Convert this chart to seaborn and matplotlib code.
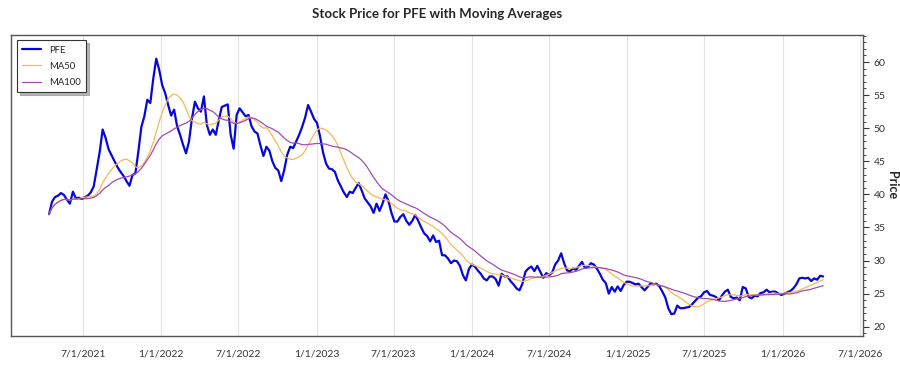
import seaborn as sns
import matplotlib.pyplot as plt
import matplotlib.dates as mdates
from matplotlib.ticker import MultipleLocator, FuncFormatter
import pandas as pd

# weekly closes, starting 2021-04-12
start_date = '2021-04-12'
prices_2021 = [37.0, 38.9, 39.6, 39.8, 40.2, 39.9, 39.2, 38.6, 40.4, 39.4,
               39.5, 39.3, 39.6, 39.8, 40.3, 41.2, 43.8, 46.4, 49.8, 48.5,
               46.8, 45.9, 45.0, 44.1, 43.4, 42.8, 42.0, 41.3, 42.9, 43.2,
               46.5, 50.2, 51.8, 54.3, 53.8, 57.5, 60.5, 58.8, 56.5]
prices_2022 = [55.3, 53.5, 51.9, 52.8, 50.3, 49.0, 47.5, 46.2, 48.0, 51.5,
               54.0, 53.0, 52.5, 54.8, 50.5, 49.0, 49.8, 49.0, 51.2, 53.2,
               53.4, 53.6, 49.0, 46.9, 52.0, 53.0, 52.4, 51.8, 52.0, 50.3,
               49.5, 49.2, 47.4, 45.8, 47.2, 46.6, 45.0, 44.0, 43.6, 42.0,
               43.7, 46.0, 47.2, 47.0, 48.0, 49.0, 50.2, 51.6, 53.5, 52.5,
               51.4, 50.8]
prices_2023 = [48.8, 46.4, 44.7, 43.9, 43.8, 43.4, 42.1, 41.2, 40.3, 39.6,
               40.4, 40.2, 41.0, 41.7, 40.6, 39.4, 38.8, 38.2, 37.2, 38.6,
               37.5, 38.6, 40.0, 39.0, 37.2, 35.9, 35.9, 36.6, 37.0, 36.0,
               35.4, 36.0, 36.9, 36.0, 35.0, 34.1, 33.7, 32.9, 33.8, 32.8,
               33.0, 30.8, 30.8, 30.3, 29.6, 30.0, 29.9, 29.2, 27.8, 27.0,
               28.7, 29.4]
prices_2024 = [29.1, 28.5, 28.0, 27.3, 27.0, 27.6, 27.6, 27.2, 26.2, 28.0,
               27.6, 27.6, 26.9, 26.4, 25.8, 25.5, 26.5, 28.3, 28.8, 29.1,
               28.4, 29.2, 28.3, 27.4, 28.1, 27.8, 28.2, 29.4, 30.0, 31.1,
               29.6, 28.5, 28.4, 28.8, 28.6, 29.2, 29.8, 28.9, 29.0, 29.6,
               29.4, 28.8, 28.0, 27.1, 26.6, 25.0, 26.0, 25.3, 26.1, 25.4,
               26.3, 26.8]
prices_2025 = [26.8, 26.6, 26.4, 26.5, 26.0, 25.5, 26.0, 26.5, 26.4, 26.5,
               26.1, 25.3, 24.4, 22.8, 21.9, 22.0, 23.2, 22.8, 22.8, 22.9,
               23.0, 23.4, 23.9, 24.4, 24.6, 25.2, 25.4, 24.8, 24.7, 24.5,
               24.0, 24.7, 25.3, 25.6, 24.5, 24.3, 24.4, 24.0, 26.0, 25.8,
               24.5, 24.3, 24.7, 24.6, 25.1, 25.2, 25.6, 25.2, 25.3, 25.3,
               25.0, 24.8]
prices_2026 = [25.0, 25.2, 25.4, 25.8, 26.4, 27.3, 27.4, 27.3, 27.4, 26.9,
               27.3, 27.1, 27.7, 27.6]

x_ticks = pd.date_range('2021-07-01', '2026-07-01', freq='6MS')

prices = prices_2021 + prices_2022 + prices_2023 + prices_2024 + prices_2025 + prices_2026
dates = pd.date_range(start_date, periods=len(prices), freq='7D')
df = pd.DataFrame({'Date': dates, 'PFE': prices}).set_index('Date')
# 50 / 100 trading days ~ 70 / 140 calendar days
df['MA50'] = df['PFE'].rolling('72D', min_periods=1).mean()
df['MA100'] = df['PFE'].rolling('144D', min_periods=1).mean()
df = df.reset_index()

sns.set_style('white')
plt.rcParams['font.family'] = ['Lato', 'DejaVu Sans']

fig = plt.figure(figsize=(9, 3.75), dpi=100)
ax = fig.add_axes([0.012, 0.104, 0.947, 0.803])

sns.lineplot(data=df, x='Date', y='PFE', color='#0707d8', linewidth=1.6, label='PFE', ax=ax)
sns.lineplot(data=df, x='Date', y='MA50', color='#f4b857', linewidth=0.9, label='MA50', ax=ax)
sns.lineplot(data=df, x='Date', y='MA100', color='#a04cb0', linewidth=0.9, label='MA100', ax=ax)

ax.set_xlim(pd.Timestamp('2021-01-12'), pd.Timestamp('2026-07-09'))
ax.set_ylim(18.6, 64.1)

ax.set_xticks(x_ticks)
ax.xaxis.set_major_formatter(FuncFormatter(
    lambda v, p: '{d.month}/{d.day}/{d.year}'.format(d=mdates.num2date(v))))
ax.grid(axis='x', color='#e3e3e3', linewidth=0.8)
ax.tick_params(axis='x', direction='out', length=4, width=0.8, pad=6,
               labelsize=7.5, colors='#333333')

ax.yaxis.tick_right()
ax.yaxis.set_label_position('right')
ax.yaxis.set_major_locator(MultipleLocator(5))
ax.yaxis.set_minor_locator(MultipleLocator(1))
ax.tick_params(axis='y', which='major', direction='out', length=4, width=0.8,
               labelsize=7.5, colors='#333333', right=True, left=False)
ax.tick_params(axis='y', which='minor', direction='out', length=2, width=0.6,
               right=True, left=False)
ax.set_ylabel('Price', rotation=270, labelpad=9, fontsize=9, fontweight='bold')
ax.set_xlabel('')

for s in ax.spines.values():
    s.set_color('#555555')
    s.set_linewidth(1.0)

ax.set_title('Stock Price for PFE with Moving Averages', fontsize=9.5,
             fontweight='bold', pad=12)

leg = ax.legend(loc='upper left', fontsize=6.8, frameon=True, fancybox=False,
                shadow={'color': '#888888', 'alpha': 0.6},
                edgecolor='#333333', borderpad=0.6, borderaxespad=0,
                handlelength=2.0, labelspacing=0.75, bbox_to_anchor=(0.007, 0.983))
leg.get_frame().set_linewidth(0.8)

plt.savefig('out.png', dpi=100)
